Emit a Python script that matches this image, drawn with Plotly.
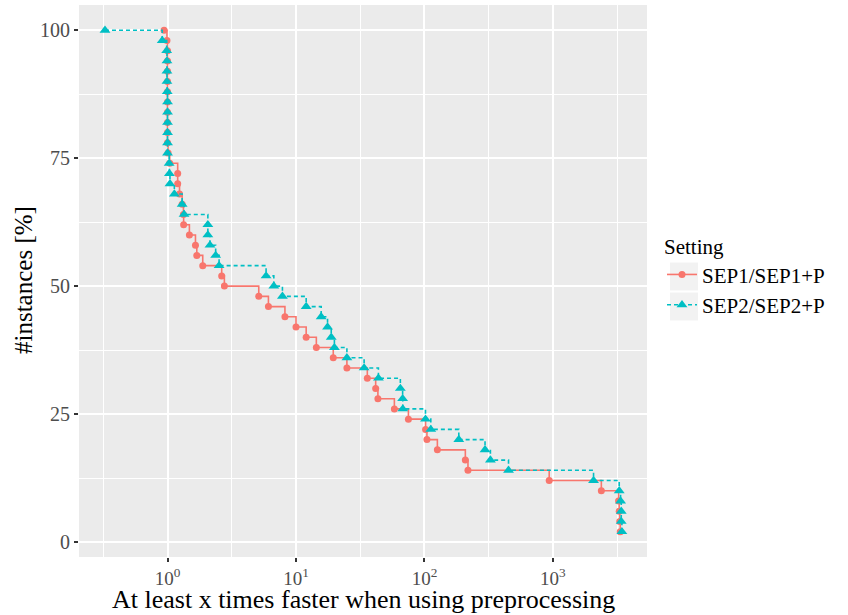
import plotly.graph_objects as go

# ---- data ----
pct = [100, 98, 96, 94, 92, 90, 88, 86, 84, 82, 80, 78, 76, 74, 72, 70, 68, 66, 64, 62,
       60, 58, 56, 54, 52, 50, 48, 46, 44, 42, 40, 38, 36, 34, 32, 30, 28, 26, 24, 22,
       20, 18, 16, 14, 12, 10, 8, 6, 4, 2]

sep1 = [0.94, 0.99, 1.0, 1.0, 1.0, 1.0, 1.0, 1.0, 1.0, 1.0, 1.0, 1.0, 1.01, 1.04, 1.20, 1.20,
        1.24, 1.30, 1.33, 1.335, 1.48, 1.65, 1.69, 1.88, 2.64, 2.77, 5.13, 6.10, 8.20, 10.0,
        12.0, 14.4, 19.5, 24.9, 35.9, 41.7, 43.4, 58.3, 75.0, 102, 104.5, 126, 208, 218,
        935, 2380, 3240, 3280, 3310, 3340]

sep2 = [0.326, 0.91, 0.985, 0.99, 0.99, 0.99, 0.995, 1.0, 1.0, 1.0, 1.0, 1.0, 1.0, 1.03,
        1.035, 1.045, 1.13, 1.30, 1.345, 2.06, 2.06, 2.14, 2.37, 2.52, 5.85, 6.72, 7.84,
        12.0, 15.7, 17.6, 18.8, 19.9, 24.9, 33.9, 43.8, 64.9, 67.6, 67.8, 101.8, 112, 185,
        296, 326, 451, 2070, 3280, 3360, 3400, 3400, 3440]

series_names = ["SEP1/SEP1+P", "SEP2/SEP2+P"]
x_title = "At least x times faster when using preprocessing"
y_title = "#instances [%]"
x_tickvals = [1, 10, 100, 1000]
x_ticktext = ["10<sup>0</sup>", "10<sup>1</sup>", "10<sup>2</sup>", "10<sup>3</sup>"]
x_minor = [10 ** -0.5, 10 ** 0.5, 10 ** 1.5, 10 ** 2.5, 10 ** 3.5]
y_tickvals = [0, 25, 50, 75, 100]
y_minor = [12.5, 37.5, 62.5, 87.5]

RED = "#F8766D"
TEAL = "#00BFC4"
FONT = "'Liberation Serif', 'Times New Roman', 'DejaVu Serif', serif"

fig = go.Figure()
fig.add_trace(go.Scatter(
    x=sep1, y=pct, name=series_names[0], mode="lines+markers",
    line=dict(color=RED, width=1.6, shape="hv"),
    marker=dict(symbol="circle", size=7, color=RED),
))
fig.add_trace(go.Scatter(
    x=sep2, y=pct, name=series_names[1], mode="lines+markers",
    line=dict(color=TEAL, width=1.6, shape="hv", dash="4px,3px"),
    marker=dict(symbol="triangle-up", size=9.5, color=TEAL),
))

L, R, T, B = 79, 647, 5, 557
W, H = 848, 615

def px_x(p):
    return (p - L) / (R - L)

def px_y(p):
    return (B - p) / (B - T)

shapes = []
for (y0, y1) in [(262.5, 290.5), (292.5, 320.5)]:
    shapes.append(dict(type="rect", xref="paper", yref="paper",
                       x0=px_x(670), x1=px_x(698), y0=px_y(y1), y1=px_y(y0),
                       fillcolor="#f2f2f2", line=dict(width=0), layer="below"))

annotations = [
    dict(text=y_title, textangle=-90, xref="paper", yref="paper",
         x=px_x(23), y=px_y(280), xanchor="center", yanchor="middle",
         showarrow=False, font=dict(family=FONT, size=25, color="black")),
    dict(text=x_title, xref="paper", yref="paper",
         x=px_x(363), y=px_y(615), xanchor="center", yanchor="bottom",
         showarrow=False, borderpad=0,
         font=dict(family=FONT, size=26, color="black")),
]

fig.update_layout(
    width=W, height=H,
    margin=dict(l=L, r=W - R, t=T, b=H - B, pad=0),
    paper_bgcolor="white",
    plot_bgcolor="#ebebeb",
    font=dict(family=FONT, size=20, color="#4d4d4d"),
    shapes=shapes,
    annotations=annotations,
    showlegend=True,
    legend=dict(
        title=dict(text="Setting", font=dict(family=FONT, size=21, color="black")),
        font=dict(family=FONT, size=21, color="black"),
        xref="container", yref="container",
        x=662 / W, y=1 - 227 / H, xanchor="left", yanchor="top",
        bgcolor="rgba(0,0,0,0)", itemwidth=30, tracegroupgap=0,
    ),
    xaxis=dict(
        type="log", range=[-0.689, 3.732],
        tickvals=x_tickvals, ticktext=x_ticktext,
        showgrid=True, gridcolor="white", gridwidth=2,
        minor=dict(tickvals=x_minor, showgrid=True, gridcolor="white", gridwidth=1, ticklen=0),
        ticks="outside", ticklen=4, tickwidth=1.5, tickcolor="#333333",
        tickfont=dict(family=FONT, size=19, color="#4d4d4d"),
        zeroline=False, showline=False,
    ),
    yaxis=dict(
        range=[-2.94, 104.94],
        tickvals=y_tickvals,
        showgrid=True, gridcolor="white", gridwidth=2,
        minor=dict(tickvals=y_minor, showgrid=True, gridcolor="white", gridwidth=1, ticklen=0),
        ticks="outside", ticklen=4, tickwidth=1.5, tickcolor="#333333",
        tickfont=dict(family=FONT, size=20, color="#4d4d4d"),
        zeroline=False, showline=False,
    ),
)

fig.write_html("out.html")
